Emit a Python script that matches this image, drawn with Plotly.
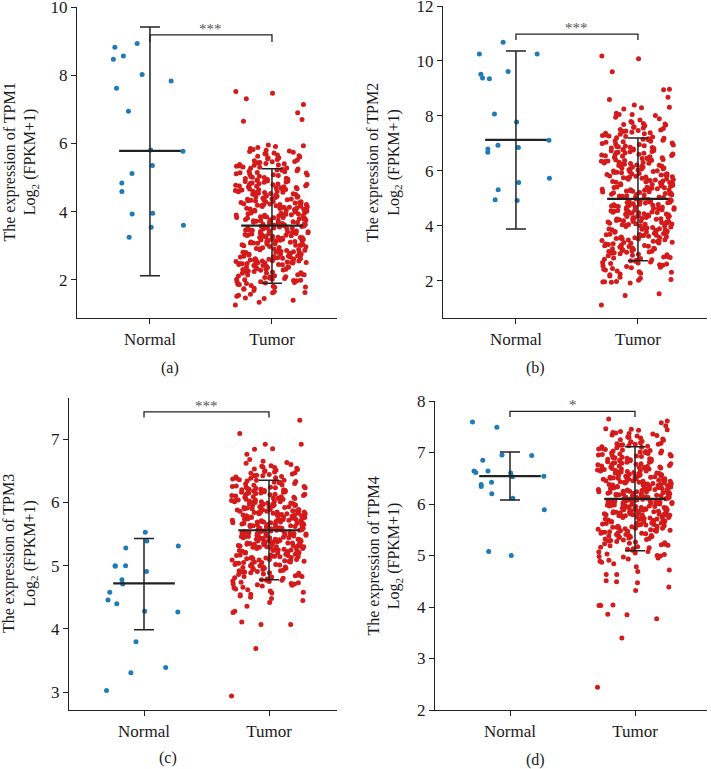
"""TPM1-4 expression, Normal vs Tumor: jittered strip plots with mean and error bars."""
import plotly.graph_objects as go

categories = ["Normal", "Tumor"]
genes = ["TPM1", "TPM2", "TPM3", "TPM4"]
panel_tags = ["(a)", "(b)", "(c)", "(d)"]
stars = ["***", "***", "***", "*"]

# Normal samples
normal_tpm1 = [8.47, 8.93, 7.83, 8.02, 8.56, 8.82, 7.62, 6.94, 5.81, 5.77, 5.35, 5.12,
               4.84, 4.59, 3.93, 3.95, 3.60, 3.54, 3.25]
normal_tpm2 = [10.25, 10.68, 10.25, 9.62, 9.35, 9.52, 9.38, 8.07, 7.78, 7.12, 6.85, 6.93,
               6.68, 6.80, 5.32, 5.58, 5.73, 4.92, 4.95]
normal_tpm3 = [3.03, 3.31, 3.39, 3.80, 4.40, 4.46, 4.58, 4.78, 4.28, 4.27, 4.91, 5.00,
               5.00, 4.99, 5.28, 5.39, 5.31, 5.53, 4.71]
normal_tpm4 = [7.59, 7.49, 6.94, 6.95, 6.85, 6.64, 6.61, 6.64, 6.60, 6.54, 6.53, 6.42,
               6.38, 6.34, 6.20, 6.11, 5.89, 5.00, 5.08]

# Tumor samples (estimated from the point clouds)
tumor_tpm1 = [
    1.26, 1.34, 1.40, 1.45, 1.47, 1.52, 1.55, 1.58, 1.62, 1.63, 1.66, 1.69, 1.72, 1.74, 1.75,
    1.78, 1.79, 1.81, 1.83, 1.86, 1.87, 1.89, 1.91, 1.92, 1.94, 1.95, 1.97, 1.98, 1.99,
    2.00, 2.02, 2.02, 2.04, 2.05, 2.07, 2.09, 2.09, 2.11, 2.12, 2.14, 2.15, 2.15, 2.17, 2.19,
    2.20, 2.21, 2.23, 2.24, 2.24, 2.26, 2.28, 2.29, 2.30, 2.31, 2.31, 2.33, 2.34, 2.36, 2.37,
    2.37, 2.38, 2.40, 2.41, 2.42, 2.42, 2.44, 2.45, 2.45, 2.46, 2.47, 2.48, 2.48, 2.49, 2.49, 2.50,
    2.51, 2.51, 2.52, 2.53, 2.54, 2.55, 2.55, 2.56, 2.57, 2.58, 2.59, 2.60, 2.61, 2.62, 2.62,
    2.63, 2.64, 2.65, 2.66, 2.67, 2.68, 2.69, 2.70, 2.70, 2.71, 2.72, 2.73, 2.74, 2.75, 2.76,
    2.77, 2.78, 2.79, 2.80, 2.81, 2.81, 2.82, 2.83, 2.85, 2.86, 2.87, 2.88, 2.89, 2.90, 2.91,
    2.92, 2.94, 2.95, 2.97, 2.98,
    3.00, 3.01, 3.01, 3.02, 3.03, 3.04, 3.05, 3.06, 3.07, 3.08, 3.08, 3.09, 3.10, 3.11, 3.12,
    3.13, 3.14, 3.15, 3.16, 3.16, 3.17, 3.18, 3.19, 3.20, 3.21, 3.22, 3.23, 3.24, 3.24, 3.25,
    3.26, 3.27, 3.28, 3.29, 3.30, 3.31, 3.32, 3.32, 3.33, 3.34, 3.35, 3.36, 3.37, 3.38, 3.39,
    3.40, 3.40, 3.41, 3.42, 3.43, 3.44, 3.45, 3.46, 3.47, 3.49,
    3.50, 3.51, 3.52, 3.52, 3.53, 3.54, 3.55, 3.56, 3.57, 3.58, 3.59, 3.59, 3.60, 3.61, 3.62,
    3.63, 3.64, 3.65, 3.66, 3.67, 3.67, 3.68, 3.69, 3.70, 3.71, 3.72, 3.73, 3.74, 3.75, 3.75,
    3.76, 3.77, 3.78, 3.79, 3.80, 3.81, 3.82, 3.83, 3.83, 3.84, 3.85, 3.86, 3.87, 3.88, 3.89,
    3.90, 3.91, 3.91, 3.92, 3.93, 3.94, 3.95, 3.96, 3.97, 3.99,
    4.00, 4.01, 4.02, 4.03, 4.04, 4.05, 4.05, 4.06, 4.07, 4.08, 4.09, 4.10, 4.11, 4.12, 4.13,
    4.13, 4.14, 4.15, 4.16, 4.17, 4.18, 4.19, 4.20, 4.21, 4.21, 4.22, 4.23, 4.24, 4.25, 4.26,
    4.27, 4.28, 4.29, 4.30, 4.31, 4.32, 4.33, 4.34, 4.35, 4.36, 4.37, 4.38, 4.39, 4.40, 4.41,
    4.42, 4.43, 4.44, 4.45, 4.46, 4.48, 4.49,
    4.50, 4.51, 4.52, 4.53, 4.54, 4.55, 4.56, 4.57, 4.58, 4.59, 4.60, 4.61, 4.62, 4.63, 4.64,
    4.65, 4.66, 4.67, 4.68, 4.69, 4.70, 4.71, 4.72, 4.73, 4.74, 4.75, 4.76, 4.77, 4.78, 4.79,
    4.80, 4.81, 4.82, 4.83, 4.84, 4.86, 4.87, 4.88, 4.89, 4.90, 4.91, 4.93, 4.94, 4.95, 4.97, 4.98,
    5.00, 5.01, 5.03, 5.04, 5.06, 5.07, 5.08, 5.10, 5.11, 5.13, 5.14, 5.15, 5.17, 5.18, 5.20,
    5.21, 5.22, 5.24, 5.25, 5.27, 5.28, 5.30, 5.31, 5.33, 5.34, 5.36, 5.37, 5.38, 5.40, 5.41,
    5.43, 5.44, 5.46, 5.47, 5.49,
    5.51, 5.53, 5.55, 5.57, 5.58, 5.60, 5.62, 5.64, 5.66, 5.68, 5.70, 5.72, 5.74, 5.76, 5.78,
    5.80, 5.82, 5.85, 5.88, 5.91, 5.93, 5.95,
    6.65, 6.70, 6.90, 7.14, 7.31, 7.47, 7.52,
]
tumor_tpm2 = [
    1.12, 1.47, 1.53,
    1.92, 1.95, 1.96, 1.97, 1.98, 2.02, 2.05, 2.10, 2.13, 2.18,
    2.22, 2.25, 2.28, 2.31, 2.33, 2.36, 2.40, 2.42, 2.45, 2.48, 2.50, 2.52, 2.55, 2.57, 2.59,
    2.61, 2.63, 2.65, 2.67, 2.69, 2.71, 2.73, 2.75, 2.77, 2.79, 2.81, 2.83, 2.85, 2.87, 2.89,
    2.91, 2.93, 2.95, 2.97, 2.99,
    3.01, 3.02, 3.04, 3.05, 3.07, 3.08, 3.10, 3.11, 3.13, 3.14, 3.16, 3.17, 3.19, 3.20, 3.22,
    3.23, 3.25, 3.26, 3.28, 3.29, 3.31, 3.32, 3.34, 3.35, 3.37, 3.38, 3.40, 3.41, 3.43, 3.44,
    3.46, 3.47, 3.49,
    3.50, 3.52, 3.53, 3.54, 3.56, 3.57, 3.58, 3.60, 3.61, 3.62, 3.64, 3.65, 3.66, 3.68, 3.69,
    3.70, 3.72, 3.73, 3.74, 3.76, 3.77, 3.78, 3.80, 3.81, 3.82, 3.84, 3.85, 3.86, 3.88, 3.89,
    3.90, 3.92, 3.93, 3.94, 3.96, 3.98,
    4.00, 4.01, 4.02, 4.04, 4.05, 4.06, 4.07, 4.08, 4.10, 4.11, 4.12, 4.13, 4.14, 4.16, 4.17,
    4.18, 4.19, 4.20, 4.22, 4.23, 4.24, 4.25, 4.26, 4.28, 4.29, 4.30, 4.31, 4.32, 4.34, 4.35,
    4.36, 4.37, 4.38, 4.40, 4.41, 4.42, 4.43, 4.44, 4.46, 4.47, 4.48, 4.49,
    4.50, 4.51, 4.53, 4.54, 4.55, 4.56, 4.57, 4.59, 4.60, 4.61, 4.62, 4.63, 4.65, 4.66, 4.67,
    4.68, 4.69, 4.71, 4.72, 4.73, 4.74, 4.75, 4.77, 4.78, 4.79, 4.80, 4.81, 4.83, 4.84, 4.85,
    4.86, 4.87, 4.89, 4.90, 4.91, 4.92, 4.93, 4.95, 4.96, 4.98,
    5.00, 5.01, 5.03, 5.04, 5.05, 5.06, 5.08, 5.09, 5.10, 5.12, 5.13, 5.14, 5.15, 5.17, 5.18,
    5.19, 5.21, 5.22, 5.23, 5.24, 5.26, 5.27, 5.28, 5.30, 5.31, 5.32, 5.33, 5.35, 5.36, 5.37,
    5.39, 5.40, 5.41, 5.42, 5.44, 5.45, 5.47, 5.48,
    5.50, 5.51, 5.53, 5.54, 5.55, 5.57, 5.58, 5.59, 5.61, 5.62, 5.63, 5.65, 5.66, 5.67, 5.69,
    5.70, 5.71, 5.73, 5.74, 5.75, 5.77, 5.78, 5.79, 5.81, 5.82, 5.83, 5.85, 5.86, 5.87, 5.89,
    5.90, 5.91, 5.93, 5.94, 5.95, 5.97, 5.98,
    6.00, 6.01, 6.03, 6.04, 6.06, 6.07, 6.08, 6.10, 6.11, 6.13, 6.14, 6.15, 6.17, 6.18, 6.20,
    6.21, 6.22, 6.24, 6.25, 6.27, 6.28, 6.29, 6.31, 6.32, 6.34, 6.35, 6.36, 6.38, 6.39, 6.41,
    6.42, 6.44, 6.45, 6.47, 6.48,
    6.50, 6.52, 6.53, 6.55, 6.56, 6.58, 6.59, 6.61, 6.62, 6.64, 6.65, 6.67, 6.68, 6.70, 6.71,
    6.73, 6.74, 6.76, 6.77, 6.79, 6.80, 6.82, 6.83, 6.85, 6.86, 6.88, 6.89, 6.91, 6.92, 6.94,
    6.96, 6.98,
    7.00, 7.02, 7.04, 7.06, 7.08, 7.10, 7.12, 7.14, 7.15, 7.17, 7.19, 7.21, 7.23, 7.25, 7.27,
    7.29, 7.31, 7.33, 7.35, 7.37, 7.39, 7.41, 7.43, 7.45, 7.47, 7.49,
    7.51, 7.54, 7.56, 7.58, 7.61, 7.64, 7.67, 7.69, 7.71, 7.73, 7.76, 7.80, 7.85, 7.90, 7.95,
    8.02, 8.05, 8.05, 8.10, 8.25, 8.30, 8.32, 8.40, 8.60, 8.68, 8.95, 8.97, 9.61, 10.08, 10.18,
]
tumor_tpm3 = [
    2.94, 3.69, 4.07, 4.07, 4.11, 4.26, 4.28, 4.36, 4.42, 4.45, 4.48,
    4.50, 4.52, 4.54, 4.55, 4.57, 4.58, 4.60, 4.62, 4.63, 4.65, 4.66, 4.68, 4.69,
    4.70, 4.71, 4.71, 4.72, 4.73, 4.74, 4.75, 4.76, 4.77, 4.77, 4.78, 4.79, 4.80, 4.81, 4.82,
    4.83, 4.83, 4.84, 4.85, 4.86, 4.87, 4.88, 4.89, 4.89,
    4.90, 4.90, 4.91, 4.92, 4.92, 4.93, 4.94, 4.94, 4.95, 4.96, 4.96, 4.97, 4.98, 4.98, 4.99,
    5.00, 5.00, 5.01, 5.02, 5.02, 5.03, 5.04, 5.04, 5.05, 5.05, 5.06, 5.06, 5.07, 5.07, 5.08,
    5.08, 5.09, 5.09, 5.10, 5.10,
    5.11, 5.11, 5.12, 5.12, 5.13, 5.13, 5.14, 5.14, 5.15, 5.15, 5.16, 5.16, 5.17, 5.17, 5.18,
    5.18, 5.19, 5.19, 5.20, 5.20, 5.21, 5.21, 5.22, 5.22, 5.23, 5.23, 5.24, 5.24, 5.25, 5.25,
    5.26, 5.26, 5.27, 5.27, 5.28, 5.28, 5.29, 5.29, 5.29, 5.30, 5.30, 5.30,
    5.31, 5.31, 5.32, 5.32, 5.32, 5.33, 5.33, 5.34, 5.34, 5.34, 5.35, 5.35, 5.36, 5.36, 5.36,
    5.37, 5.37, 5.38, 5.38, 5.38, 5.39, 5.39, 5.40, 5.40, 5.40, 5.41, 5.41, 5.42, 5.42, 5.42,
    5.43, 5.43, 5.44, 5.44, 5.44, 5.45, 5.45, 5.46, 5.46, 5.46, 5.47, 5.47, 5.48, 5.48, 5.49,
    5.49, 5.50, 5.50,
    5.51, 5.51, 5.51, 5.52, 5.52, 5.53, 5.53, 5.53, 5.54, 5.54, 5.55, 5.55, 5.55, 5.56, 5.56,
    5.57, 5.57, 5.57, 5.58, 5.58, 5.59, 5.59, 5.59, 5.60, 5.60, 5.61, 5.61, 5.61, 5.62, 5.62,
    5.63, 5.63, 5.63, 5.64, 5.64, 5.65, 5.65, 5.65, 5.66, 5.66, 5.67, 5.67, 5.67, 5.68, 5.68,
    5.69, 5.69, 5.69, 5.70, 5.70,
    5.71, 5.71, 5.72, 5.72, 5.72, 5.73, 5.73, 5.74, 5.74, 5.74, 5.75, 5.75, 5.76, 5.76, 5.76,
    5.77, 5.77, 5.78, 5.78, 5.78, 5.79, 5.79, 5.80, 5.80, 5.80, 5.81, 5.81, 5.82, 5.82, 5.82,
    5.83, 5.83, 5.84, 5.84, 5.84, 5.85, 5.85, 5.86, 5.86, 5.86, 5.87, 5.87, 5.88, 5.88, 5.89,
    5.89, 5.90, 5.90,
    5.91, 5.91, 5.92, 5.92, 5.93, 5.93, 5.93, 5.94, 5.94, 5.95, 5.95, 5.96, 5.96, 5.97, 5.97,
    5.97, 5.98, 5.98, 5.99, 5.99, 6.00, 6.00, 6.01, 6.01, 6.01, 6.02, 6.02, 6.03, 6.03, 6.04,
    6.04, 6.05, 6.05, 6.06, 6.06, 6.07, 6.07, 6.08, 6.08, 6.09, 6.09, 6.10,
    6.11, 6.11, 6.12, 6.12, 6.13, 6.13, 6.14, 6.14, 6.15, 6.15, 6.16, 6.16, 6.17, 6.17, 6.18,
    6.18, 6.19, 6.19, 6.20, 6.20, 6.21, 6.21, 6.22, 6.22, 6.23, 6.23, 6.24, 6.24, 6.25, 6.25,
    6.26, 6.27, 6.28, 6.29, 6.30,
    6.31, 6.32, 6.32, 6.33, 6.34, 6.35, 6.35, 6.36, 6.37, 6.38, 6.38, 6.39, 6.40, 6.41, 6.42,
    6.42, 6.43, 6.44, 6.45, 6.46, 6.47, 6.48, 6.49, 6.50,
    6.51, 6.52, 6.53, 6.54, 6.55, 6.56, 6.57, 6.58, 6.60, 6.62, 6.63, 6.65, 6.68,
    6.76, 6.84, 6.85, 6.92, 6.92, 7.09, 7.30,
]
tumor_tpm4 = [
    2.44, 3.40, 3.77, 3.85, 3.86, 4.03, 4.03, 4.04, 4.32, 4.39, 4.47, 4.49, 4.51,
    4.63, 4.63, 4.69, 4.72, 4.78, 4.84, 4.87, 4.89, 4.91, 4.93, 4.95, 4.97, 4.98, 4.99,
    5.00, 5.02, 5.03, 5.05, 5.07, 5.08, 5.10, 5.12, 5.13, 5.15, 5.16, 5.17, 5.19,
    5.20, 5.21, 5.22, 5.23, 5.24, 5.25, 5.26, 5.27, 5.28, 5.29, 5.30, 5.31, 5.32, 5.33, 5.34,
    5.35, 5.36, 5.36, 5.37, 5.38, 5.39, 5.39,
    5.40, 5.41, 5.41, 5.42, 5.43, 5.43, 5.44, 5.45, 5.45, 5.46, 5.47, 5.47, 5.48, 5.49, 5.49,
    5.50, 5.51, 5.51, 5.52, 5.53, 5.53, 5.54, 5.55, 5.55, 5.56, 5.57, 5.57, 5.58, 5.59, 5.59,
    5.60, 5.60, 5.61, 5.62, 5.62, 5.63, 5.63, 5.64, 5.65, 5.65, 5.66, 5.66, 5.67, 5.68, 5.68,
    5.69, 5.69, 5.70, 5.71, 5.71, 5.72, 5.72, 5.73, 5.74, 5.74, 5.75, 5.75, 5.76, 5.77, 5.77,
    5.78, 5.78, 5.79, 5.79, 5.79,
    5.80, 5.80, 5.81, 5.81, 5.82, 5.82, 5.83, 5.83, 5.84, 5.84, 5.85, 5.85, 5.86, 5.86, 5.87,
    5.87, 5.88, 5.88, 5.89, 5.89, 5.90, 5.90, 5.91, 5.91, 5.92, 5.92, 5.93, 5.93, 5.94, 5.94,
    5.95, 5.95, 5.96, 5.96, 5.97, 5.97, 5.98, 5.98, 5.99,
    6.00, 6.00, 6.01, 6.01, 6.02, 6.02, 6.03, 6.03, 6.04, 6.04, 6.05, 6.05, 6.05, 6.06, 6.06,
    6.07, 6.07, 6.08, 6.08, 6.09, 6.09, 6.10, 6.10, 6.11, 6.11, 6.12, 6.12, 6.13, 6.13, 6.13,
    6.14, 6.14, 6.15, 6.15, 6.16, 6.16, 6.17, 6.17, 6.18, 6.18, 6.19, 6.19,
    6.20, 6.20, 6.21, 6.21, 6.22, 6.22, 6.23, 6.23, 6.24, 6.24, 6.24, 6.25, 6.25, 6.26, 6.26,
    6.27, 6.27, 6.28, 6.28, 6.29, 6.29, 6.30, 6.30, 6.31, 6.31, 6.32, 6.32, 6.33, 6.33, 6.33,
    6.34, 6.34, 6.35, 6.35, 6.36, 6.36, 6.37, 6.37, 6.38, 6.38, 6.39, 6.39,
    6.40, 6.40, 6.41, 6.41, 6.42, 6.42, 6.43, 6.43, 6.44, 6.44, 6.45, 6.45, 6.46, 6.46, 6.47,
    6.48, 6.48, 6.49, 6.49, 6.50, 6.50, 6.51, 6.51, 6.52, 6.52, 6.53, 6.53, 6.54, 6.54, 6.55,
    6.55, 6.56, 6.57, 6.57, 6.58, 6.58, 6.59, 6.59,
    6.60, 6.60, 6.61, 6.62, 6.62, 6.63, 6.64, 6.64, 6.65, 6.65, 6.66, 6.66, 6.67, 6.68, 6.68,
    6.69, 6.70, 6.70, 6.71, 6.71, 6.72, 6.72, 6.73, 6.74, 6.74, 6.75, 6.76, 6.76, 6.77, 6.78,
    6.78, 6.79, 6.79,
    6.80, 6.81, 6.81, 6.82, 6.83, 6.84, 6.84, 6.85, 6.86, 6.87, 6.87, 6.88, 6.89, 6.90, 6.90,
    6.91, 6.92, 6.93, 6.93, 6.94, 6.95, 6.96, 6.96, 6.97, 6.98, 6.99, 6.99,
    7.00, 7.01, 7.02, 7.03, 7.03, 7.04, 7.05, 7.06, 7.07, 7.08, 7.09, 7.10, 7.11, 7.12, 7.13,
    7.14, 7.15, 7.16, 7.16, 7.17, 7.18, 7.19,
    7.20, 7.21, 7.22, 7.24, 7.25, 7.26, 7.28, 7.29, 7.30, 7.32, 7.33, 7.34, 7.36, 7.37, 7.38,
    7.39, 7.41, 7.43, 7.44, 7.45, 7.46, 7.52, 7.58, 7.61, 7.65,
]

# centre line and error-bar ends, one entry per gene
normal_mean = [5.78, 7.13, 4.72, 6.54]
normal_low = [2.12, 3.89, 3.99, 6.08]
normal_high = [9.41, 10.36, 5.43, 7.01]
tumor_mean = [3.59, 4.98, 5.56, 6.10]
tumor_low = [1.90, 2.73, 4.78, 5.09]
tumor_high = [5.26, 7.20, 6.35, 7.11]

normal_sets = [normal_tpm1, normal_tpm2, normal_tpm3, normal_tpm4]
tumor_sets = [tumor_tpm1, tumor_tpm2, tumor_tpm3, tumor_tpm4]

BLUE = "#1f7bb6"
RED = "#d41a1a"
INK = "#222222"
SERIF = "Liberation Serif"
W, H = 711, 769

# panel geometry (paper domains from pixel boxes), axis ranges, bracket heights
PANELS = [
    dict(box=(77, 337, 7, 318), xr=(-0.598, 1.533), yr=(0.88, 10), dtick=2, br=(9.18, 8.97),
         title_x=20, tag_xy=(170, 368)),
    dict(box=(443, 707, 6, 318), xr=(-0.598, 1.566), yr=(0.65, 12), dtick=2, br=(10.98, 10.76),
         title_x=384, tag_xy=(535, 368)),
    dict(box=(69, 337, 398, 710), xr=(-0.600, 1.544), yr=(2.72, 7.65), dtick=1, br=(7.43, 7.34),
         title_x=20, tag_xy=(168, 758)),
    dict(box=(435, 707, 401, 710), xr=(-0.600, 1.576), yr=(2, 8), dtick=1, br=(7.80, 7.69),
         title_x=384, tag_xy=(535, 760)),
]


def jitter(n, half=0.3):
    # deterministic spread in [-half, half] (quadratic Weyl sequence)
    return [half * (2 * ((0.7548776662 * i + 0.5698402910 * i * i) % 1.0) - 1) for i in range(n)]


fig = go.Figure()
shapes, notes = [], []
layout = {}

for k, p in enumerate(PANELS):
    sfx = "" if k == 0 else str(k + 1)
    xa, ya = "x" + sfx, "y" + sfx
    x0, x1, y0, y1 = p["box"]

    for pos, vals, col in ((0, normal_sets[k], BLUE), (1, tumor_sets[k], RED)):
        fig.add_trace(go.Scatter(
            x=[pos + j for j in jitter(len(vals))], y=vals, mode="markers",
            marker=dict(size=5, color=col, line=dict(width=0)),
            xaxis=xa, yaxis=ya, hoverinfo="y",
        ))

    layout["xaxis" + sfx] = dict(
        domain=[x0 / W, x1 / W], range=list(p["xr"]), anchor=ya, automargin=False,
        tickvals=[0, 1], ticktext=categories, ticklabeloverflow="allow",
        showline=True, linecolor=INK, linewidth=1.3, ticks="outside", ticklen=5,
        tickwidth=1.3, tickcolor=INK, showgrid=False, zeroline=False,
        tickfont=dict(family=SERIF, size=17, color="#1a1a1a"),
    )
    layout["yaxis" + sfx] = dict(
        domain=[1 - y1 / H, 1 - y0 / H], range=list(p["yr"]), anchor=xa, automargin=False,
        tick0=0, dtick=p["dtick"], ticklabeloverflow="allow",
        showline=True, linecolor=INK, linewidth=1.3, ticks="outside", ticklen=5,
        tickwidth=1.3, tickcolor=INK, showgrid=False, zeroline=False,
        tickfont=dict(family=SERIF, size=17, color="#1a1a1a"),
    )

    bar, tip = p["br"]
    shapes.append(dict(type="path", xref=xa, yref=ya,
                       path=f"M 0,{tip} L 0,{bar} L 1,{bar} L 1,{tip}",
                       line=dict(color=INK, width=1.3)))
    notes.append(dict(xref=xa, yref=ya, x=0.5, y=bar, text=stars[k], showarrow=False,
                      yanchor="middle", yshift=6, font=dict(family=SERIF, size=15, color="#555555")))
    notes.append(dict(xref="paper", yref="paper", x=p["title_x"] / W, y=1 - (y0 + y1) / 2 / H,
                      text=f"The expression of {genes[k]}<br>Log<sub>2</sub> (FPKM+1)",
                      textangle=-90, showarrow=False, xanchor="center", yanchor="middle",
                      font=dict(family=SERIF, size=16, color="#1a1a1a")))
    tx, ty = p["tag_xy"]
    notes.append(dict(xref="paper", yref="paper", x=tx / W, y=1 - ty / H, text=panel_tags[k],
                      showarrow=False, xanchor="center", yanchor="middle",
                      font=dict(family=SERIF, size=16, color="#1a1a1a")))

# mean line + error bars drawn on top of the points
for k in range(4):
    sfx = "" if k == 0 else str(k + 1)
    means = [normal_mean[k], tumor_mean[k]]
    highs = [normal_high[k], tumor_high[k]]
    lows = [normal_low[k], tumor_low[k]]
    fig.add_trace(go.Scatter(
        x=[0, 1], y=means, mode="markers", xaxis="x" + sfx, yaxis="y" + sfx,
        marker=dict(symbol="line-ew", size=44, color=INK, line=dict(width=2.2, color=INK)),
        error_y=dict(type="data", symmetric=False,
                     array=[h - m for h, m in zip(highs, means)],
                     arrayminus=[m - lo for m, lo in zip(means, lows)],
                     width=10, thickness=1.5, color=INK),
        hoverinfo="skip",
    ))

fig.update_layout(
    template="none",
    width=W, height=H, margin=dict(l=0, r=0, t=0, b=0, autoexpand=False),
    plot_bgcolor="white", paper_bgcolor="white", showlegend=False,
    font=dict(family=SERIF, color="#1a1a1a"),
    shapes=shapes, annotations=notes, **layout,
)

# drop the page's default body margin so the figure sits at the window origin
fig.write_html("out.html", config={"displayModeBar": False},
               post_script="document.body.style.margin='0';")
